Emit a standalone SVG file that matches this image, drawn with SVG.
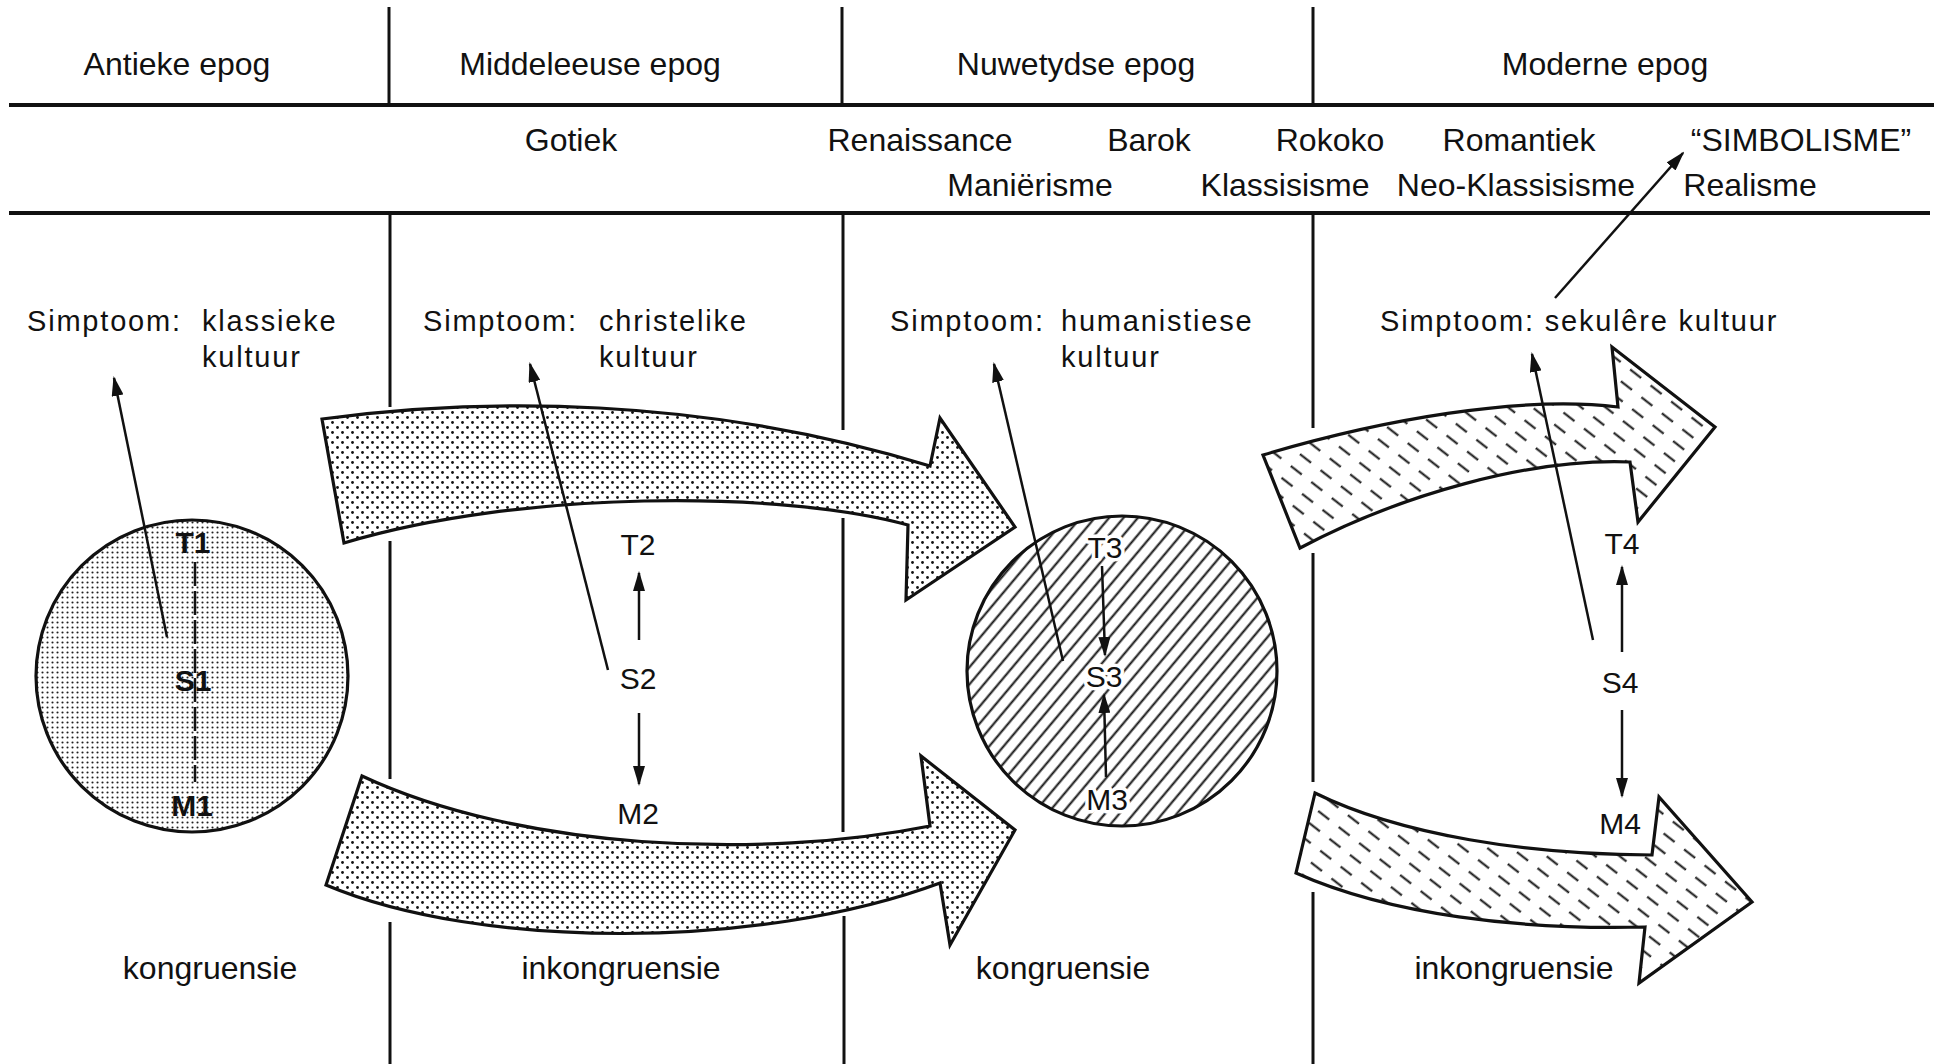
<svg xmlns="http://www.w3.org/2000/svg" width="1946" height="1064" viewBox="0 0 1946 1064">
<defs>
<style>
.hd{font-family:"Liberation Sans",Arial,sans-serif;font-size:32px;fill:#111;text-anchor:middle}
.st{font-family:"Liberation Sans",Arial,sans-serif;font-size:29px;letter-spacing:1.8px;fill:#111}
.lb{font-family:"Liberation Sans",Arial,sans-serif;font-size:30px;fill:#111;text-anchor:middle}
.bd{font-weight:bold}
.halo{stroke:#fff;stroke-width:7px;paint-order:stroke;stroke-linejoin:round}
.rule{stroke:#111;stroke-width:4;fill:none}
.vl{stroke:#111;stroke-width:3;fill:none}
.con{stroke:#111;stroke-width:2.5;fill:none}
.shape{stroke:#111;stroke-width:3.2;stroke-linejoin:miter}
</style>
<pattern id="fine" width="5" height="5" patternUnits="userSpaceOnUse">
<rect width="5" height="5" fill="#fff"/>
<circle cx="2.5" cy="2.5" r="1.05" fill="#222"/>
</pattern>
<pattern id="dots" width="10" height="10" patternUnits="userSpaceOnUse">
<rect width="10" height="10" fill="#fff"/>
<circle cx="2.5" cy="2.5" r="1.4" fill="#111"/>
<circle cx="7.5" cy="7.5" r="1.4" fill="#111"/>
</pattern>
<pattern id="hatch" width="11" height="11" patternUnits="userSpaceOnUse" patternTransform="rotate(40)">
<rect width="11" height="11" fill="#fff"/>
<line x1="5.5" y1="0" x2="5.5" y2="11" stroke="#111" stroke-width="2"/>
</pattern>
<pattern id="dash" width="26" height="15" patternUnits="userSpaceOnUse" patternTransform="rotate(38)">
<rect width="26" height="15" fill="#fff"/>
<line x1="4" y1="7.5" x2="18" y2="7.5" stroke="#111" stroke-width="2"/>
</pattern>
<marker id="ah" viewBox="0 0 20 12" refX="18" refY="6" markerWidth="20" markerHeight="12" markerUnits="userSpaceOnUse" orient="auto">
<path d="M0,0 L20,6 L0,12 Z" fill="#111"/>
</marker>
</defs>
<rect width="1946" height="1064" fill="#fff"/>

<g id="grid">
<line class="rule" x1="9" y1="105" x2="1934" y2="105"/>
<line class="rule" x1="9" y1="213" x2="1930" y2="213"/>
<line class="vl" x1="389" y1="7" x2="389" y2="105"/>
<line class="vl" x1="842" y1="7" x2="842" y2="105"/>
<line class="vl" x1="1313" y1="7" x2="1313" y2="105"/>
<line class="vl" x1="390" y1="213" x2="390" y2="407"/>
<line class="vl" x1="390" y1="541" x2="390" y2="779"/>
<line class="vl" x1="390" y1="922" x2="390" y2="1064"/>
<line class="vl" x1="843" y1="213" x2="843" y2="430"/>
<line class="vl" x1="843" y1="518" x2="843" y2="832"/>
<line class="vl" x1="844" y1="916" x2="844" y2="1064"/>
<line class="vl" x1="1313" y1="213" x2="1313" y2="428"/>
<line class="vl" x1="1313" y1="553" x2="1313" y2="782"/>
<line class="vl" x1="1313" y1="892" x2="1313" y2="1064"/>
</g>

<g id="epochs">
<text class="hd" x="177" y="75">Antieke epog</text>
<text class="hd" x="590" y="75">Middeleeuse epog</text>
<text class="hd" x="1076" y="75">Nuwetydse epog</text>
<text class="hd" x="1605" y="75">Moderne epog</text>
</g>

<g id="styles">
<text class="hd" x="571" y="151">Gotiek</text>
<text class="hd" x="920" y="151">Renaissance</text>
<text class="hd" x="1149" y="151">Barok</text>
<text class="hd" x="1330" y="151">Rokoko</text>
<text class="hd" x="1519" y="151">Romantiek</text>
<text class="hd" x="1801" y="151">“SIMBOLISME”</text>
<text class="hd" x="1030" y="196">Maniërisme</text>
<text class="hd" x="1285" y="196">Klassisisme</text>
<text class="hd" x="1516" y="196">Neo-Klassisisme</text>
<text class="hd" x="1750" y="196">Realisme</text>
</g>

<g id="symptoms">
<text class="st" y="331"><tspan x="27">Simptoom:</tspan><tspan x="202">klassieke</tspan></text>
<text class="st" x="202" y="367">kultuur</text>
<text class="st" y="331"><tspan x="423">Simptoom:</tspan><tspan x="599">christelike</tspan></text>
<text class="st" x="599" y="367">kultuur</text>
<text class="st" y="331"><tspan x="890">Simptoom:</tspan><tspan x="1061">humanistiese</tspan></text>
<text class="st" x="1061" y="367">kultuur</text>
<text class="st" x="1380" y="331">Simptoom: sekulêre kultuur</text>
</g>

<g id="arrow-1">
<path class="shape" fill="url(#dots)" d="M322,419 C480,398 700,395 930,466 L940,418 L1015,527 L906,600 L908,525 C780,490 520,490 344,543 Z"/>
</g>
<g id="arrow-2">
<path class="shape" fill="url(#dots)" d="M362,776 C520,850 760,860 930,826 L921,756 L1015,830 L950,945 L940,883 C760,950 480,950 326,885 Z"/>
</g>
<g id="arrow-3">
<path class="shape" fill="url(#dash)" d="M1263,455 C1380,420 1520,395 1618,407 L1612,347 L1715,427 L1638,522 L1630,462 C1530,458 1400,495 1300,548 Z"/>
</g>
<g id="arrow-4">
<path class="shape" fill="url(#dash)" d="M1315,793 C1400,835 1530,855 1652,855 L1659,797 L1752,902 L1639,983 L1645,927 C1520,930 1390,915 1296,873 Z"/>
</g>

<g id="circle-1">
<circle cx="192" cy="676" r="156" fill="url(#fine)" stroke="#111" stroke-width="3.2"/>
<text class="lb bd" x="193" y="553">T1</text>
<text class="lb bd" x="193" y="691">S1</text>
<text class="lb bd" x="192" y="816">M1</text>
</g>
<g id="circle-3">
<circle cx="1122" cy="671" r="155" fill="url(#hatch)" stroke="#111" stroke-width="3.2"/>
<text class="lb halo" x="1105" y="558">T3</text>
<text class="lb halo" x="1104" y="687">S3</text>
<text class="lb halo" x="1107" y="810">M3</text>
</g>
<g id="node-2">
<text class="lb" x="638" y="555">T2</text>
<text class="lb" x="638" y="689">S2</text>
<text class="lb" x="638" y="824">M2</text>
</g>
<g id="node-4">
<text class="lb" x="1622" y="554">T4</text>
<text class="lb" x="1620" y="693">S4</text>
<text class="lb" x="1620" y="834">M4</text>
</g>

<g id="bottom">
<text class="hd" x="210" y="979">kongruensie</text>
<text class="hd" x="621" y="979">inkongruensie</text>
<text class="hd" x="1063" y="979">kongruensie</text>
<text class="hd" x="1514" y="979">inkongruensie</text>
</g>

<g id="connectors">
<line class="con" x1="167" y1="637" x2="114" y2="378" marker-end="url(#ah)"/>
<line class="con" x1="195" y1="562" x2="195" y2="782" stroke-dasharray="24 5"/>
<line class="con" x1="608" y1="670" x2="530" y2="364" marker-end="url(#ah)"/>
<line class="con" x1="639" y1="640" x2="639" y2="573" marker-end="url(#ah)"/>
<line class="con" x1="639" y1="713" x2="639" y2="784" marker-end="url(#ah)"/>
<line class="con" x1="1063" y1="661" x2="994" y2="364" marker-end="url(#ah)"/>
<line class="con" x1="1102" y1="566" x2="1105" y2="655" marker-end="url(#ah)"/>
<line class="con" x1="1106" y1="777" x2="1104" y2="695" marker-end="url(#ah)"/>
<line class="con" x1="1593" y1="640" x2="1532" y2="354" marker-end="url(#ah)"/>
<line class="con" x1="1622" y1="652" x2="1622" y2="567" marker-end="url(#ah)"/>
<line class="con" x1="1622" y1="710" x2="1622" y2="796" marker-end="url(#ah)"/>
<line class="con" x1="1555" y1="298" x2="1683" y2="153" marker-end="url(#ah)"/>
</g>
</svg>
